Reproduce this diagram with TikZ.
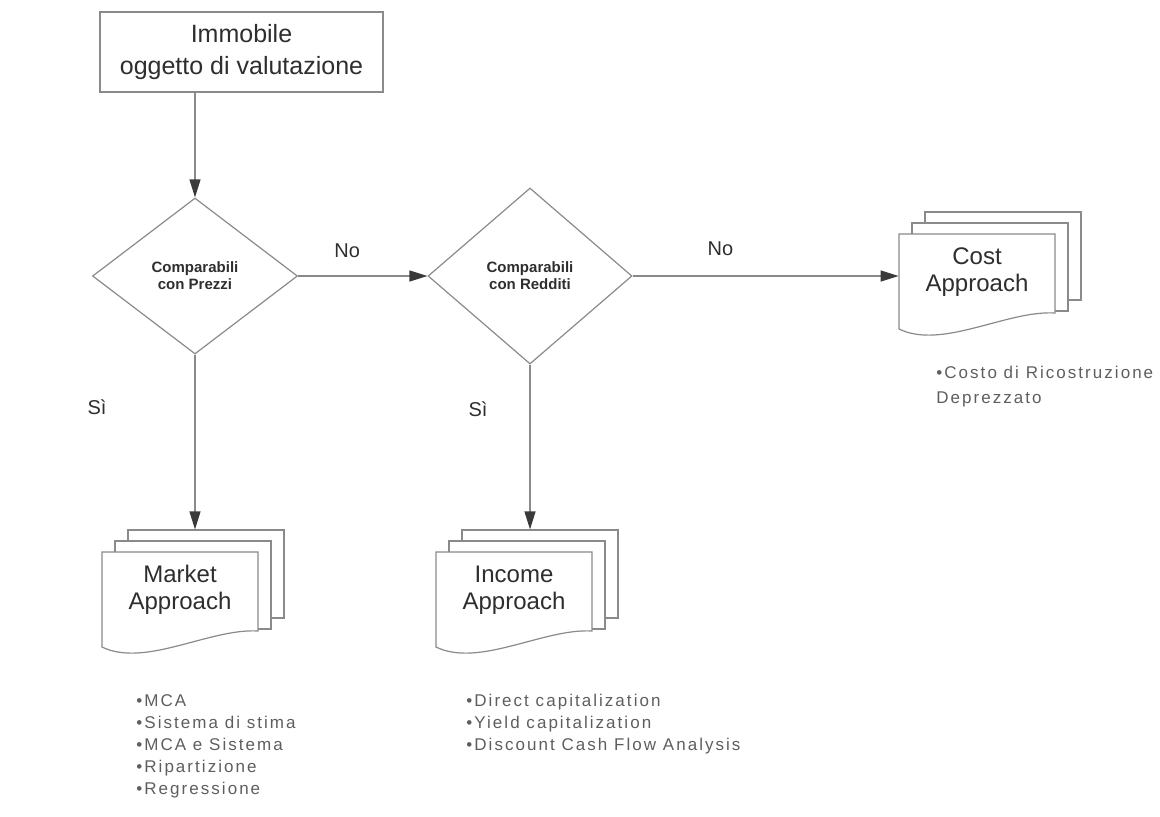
\documentclass[tikz,border=0pt]{standalone}
\usepackage{fontspec}
\setmainfont{Liberation Sans}
\newfontfamily\listfont[LetterSpace=12]{Liberation Sans}
\usepackage{tikz}
\usetikzlibrary{arrows.meta,backgrounds,calc,positioning,shapes.geometric}
\definecolor{linegray}{HTML}{8A8A8A}
\definecolor{tipgray}{HTML}{3A3A3A}
\definecolor{textgray}{HTML}{2E2E2E}
\definecolor{listgray}{HTML}{5E5E5E}
\tikzset{
  startbox/.style={
    draw=linegray,
    line width=0.6pt,
    fill=white,
    align=center,
    minimum width=141.5pt,
    minimum height=40pt,
    inner sep=0pt,
    text=textgray,
    font=\fontsize{12.5}{16}\selectfont
  },
  decision/.style={
    diamond,
    draw=linegray,
    line width=0.6pt,
    aspect=1.3,
    inner sep=0pt,
    align=center,
    text=textgray,
    font=\fontsize{7.5}{8.5}\selectfont\bfseries
  },
  approachtext/.style={
    align=center,
    minimum width=78pt,
    inner sep=0pt,
    text=textgray,
    font=\fontsize{12}{13.5}\selectfont
  },
  backpage/.style={
    draw=linegray,
    line width=0.6pt,
    fill=white,
    minimum width=78pt,
    minimum height=44pt,
    inner sep=0pt
  },
  frontpage/.style={
    draw=linegray,
    line width=0.6pt,
    fill=white
  },
  bulletlist/.style={
    anchor=north west,
    align=left,
    inner sep=0pt,
    text=listgray,
    font=\listfont\fontsize{8.5}{11}\selectfont
  },
  edgelabel/.style={
    inner sep=0pt,
    text=textgray,
    font=\fontsize{10}{12}\selectfont
  },
  flowarrow/.style={
    -{Triangle[length=9pt,width=5.5pt,color=tipgray]},
    line width=0.6pt,
    draw=linegray
  }
}

\begin{document}
\begin{tikzpicture}[x=0.5pt, y=-0.5pt]
    \useasboundingbox (0,0) rectangle (1160,816);

    \node[startbox] (main) at (241.5,52) {Immobile\\oggetto di valutazione};

    \node[decision, minimum width=102.5pt, minimum height=78pt] (prezzi) at (195,276) {
        Comparabili\\
        con Prezzi
    };
    \node[decision, minimum width=102pt, minimum height=88pt] (redditi) at (530,276) {
        Comparabili\\
        con Redditi
    };

    \node[approachtext] (market) at (180,590) {Market\\Approach};
    \node[approachtext] (income) at (514,590) {Income\\Approach};
    \node[approachtext] (cost) at (977,272) {Cost\\Approach};

    \begin{scope}[on background layer]
        \foreach \n in {market,income,cost} {
            \node[backpage] (back\n) at ($(\n)+(26,-16)$) {};
            \node[backpage] (mid\n) at ($(\n)+(13,-5)$) {};
            \filldraw[frontpage] ($(\n)+(-78,57)$) -- ($(\n)+(-78,-38)$) -- ($(\n)+(78,-38)$)
                -- ($(\n)+(78,41)$) .. controls ($(\n)+(30,38)$) and ($(\n)+(-35,78)$) .. ($(\n)+(-78,57)$) -- cycle;
        }
    \end{scope}

    \node[bulletlist] (marketlist) at (136,694) {
        \textbullet MCA\\
        \textbullet Sistema di stima\\
        \textbullet MCA e Sistema\\
        \textbullet Ripartizione\\
        \textbullet Regressione
    };
    \node[bulletlist] (incomelist) at (466,694) {
        \textbullet Direct capitalization\\
        \textbullet Yield capitalization\\
        \textbullet Discount Cash Flow Analysis
    };
    \node[bulletlist, font=\listfont\fontsize{8.5}{12.5}\selectfont] (costlist) at (936,366) {
        \textbullet Costo di Ricostruzione\\
        Deprezzato
    };

    \draw[flowarrow] (main.south -| prezzi.north) -- (prezzi.north);
    \draw[flowarrow] (prezzi.east) -- node[edgelabel, above=9pt, pos=0.38] {No} (redditi.west);
    \draw[flowarrow] (redditi.east) -- node[edgelabel, above=10pt, pos=0.33] {No} (redditi.east -| cost.west);
    \draw[flowarrow] (prezzi.south) -- node[edgelabel, left=44pt, pos=0.3] {Sì} (prezzi.south |- backmarket.north);
    \draw[flowarrow] (redditi.south) -- node[edgelabel, left=21pt, pos=0.27] {Sì} (redditi.south |- backincome.north);
\end{tikzpicture}
\end{document}
